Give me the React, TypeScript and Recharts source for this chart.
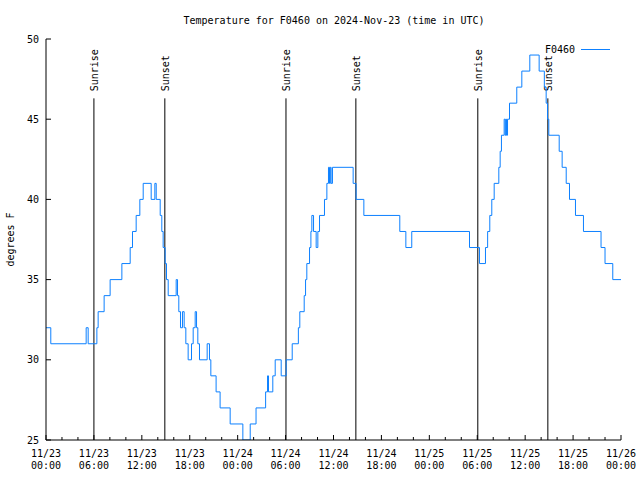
import { LineChart, Line, XAxis, YAxis, ReferenceLine, Customized } from "recharts";

// hours since 11/23 00:00 UTC where the reading changes, and the reading from then on
const stepHours = [
  0, 0.6, 5.03, 5.28, 6.37, 6.53, 7.28, 8.03, 9.5, 10.54, 10.83, 11.29, 11.75, 12.17,
  13.17, 13.63, 13.8, 14.3, 14.5, 14.67, 14.92, 15.09, 15.3, 16.3, 16.47, 16.63, 16.84,
  17.09, 17.3, 17.51, 17.8, 18.22, 18.43, 18.68, 18.85, 19.01, 19.22, 20.18, 20.47, 20.64,
  21.3, 21.8, 23.06, 24.65, 25.57, 26.3, 27.5, 27.74, 27.86, 28.4, 28.7, 29.45, 30.07,
  30.83, 31.6, 31.78, 32.33, 32.5, 32.66, 33.0, 33.17, 33.29, 33.5, 33.83, 34.04, 34.25,
  34.87, 35.17, 35.37, 35.5, 35.6, 35.7, 35.87, 38.46, 38.83, 39.8, 44.3, 45.06, 45.8,
  53.03, 54.28, 55.03, 55.3, 55.57, 55.82, 56.12, 56.7, 56.87, 57.03, 57.37, 57.5, 57.58,
  57.66, 57.79, 58.04, 58.95, 59.58, 60.58, 61.75, 62.4, 62.63, 62.8, 62.96, 64.26, 64.63,
  65.14, 65.55, 66.3, 67.3, 69.5, 70.0, 70.97, 72,
];
const stepTemps = [
  32, 31, 32, 31, 32, 33, 34, 35, 36, 37, 38, 39, 40, 41,
  40, 41, 40, 39, 38, 37, 36, 35, 34, 35, 34, 33, 32,
  33, 32, 31, 30, 31, 32, 33, 32, 31, 30, 31, 30, 29,
  28, 27, 26, 25, 26, 27, 28, 29, 28, 29, 30, 29, 30,
  31, 32, 33, 34, 35, 36, 37, 38, 39, 38, 37, 38, 39,
  40, 41, 42, 41, 42, 41, 42, 41, 40, 39, 38, 37, 38,
  37, 36, 37, 38, 39, 40, 41, 42, 43, 44, 45, 44, 45,
  44, 45, 46, 47, 48, 49, 48, 47, 46, 45, 44, 43, 42,
  41, 40, 39, 38, 37, 36, 35, 35,
];

const xTickHours = [
  0, 2, 4, 6, 8, 10, 12, 14, 16, 18, 20, 22, 24, 26, 28, 30, 32, 34, 36,
  38, 40, 42, 44, 46, 48, 50, 52, 54, 56, 58, 60, 62, 64, 66, 68, 70, 72,
];
const xMajorHours = [0, 6, 12, 18, 24, 30, 36, 42, 48, 54, 60, 66, 72];
const xDayLabels = [
  "11/23", "11/23", "11/23", "11/23", "11/24", "11/24", "11/24",
  "11/24", "11/25", "11/25", "11/25", "11/25", "11/26",
];
const xTimeLabels = [
  "00:00", "06:00", "12:00", "18:00", "00:00", "06:00", "12:00",
  "18:00", "00:00", "06:00", "12:00", "18:00", "00:00",
];
const yTicks = [25, 30, 35, 40, 45, 50];

const sunriseHours = [6.0, 30.05, 54.07];
const sunsetHours = [14.88, 38.8, 62.84];
const sunLineTop = 46.3;

const data = stepHours.map((h, i) => ({ h, temp: stepTemps[i] }));

const FONT = "'DejaVu Sans Mono', monospace";
const BLUE = "#0d80ff";

function BottomTick({ x, y, payload }: any) {
  const i = xMajorHours.indexOf(payload.value);
  return (
    <g>
      <line x1={x} x2={x} y1={y} y2={y - (i >= 0 ? 5 : 3)} stroke="#000" />
      {i >= 0 && (
        <text x={x} y={y + 17} textAnchor="middle" fontFamily={FONT} fontSize={10} fill="#000">
          <tspan x={x}>{xDayLabels[i]}</tspan>
          <tspan x={x} dy={11.5}>{xTimeLabels[i]}</tspan>
        </text>
      )}
    </g>
  );
}

function TopTick({ x, y, payload }: any) {
  const major = xMajorHours.includes(payload.value);
  return <line x1={x} x2={x} y1={y} y2={y + (major ? 5 : 3)} stroke="#000" />;
}

function LeftTick({ x, y, payload }: any) {
  return (
    <g>
      <line x1={x} x2={x + 5} y1={y} y2={y} stroke="#000" />
      <text x={x - 7} y={y + 3.6} textAnchor="end" fontFamily={FONT} fontSize={10} fill="#000">
        {payload.value}
      </text>
    </g>
  );
}

function RightTick({ x, y }: any) {
  return <line x1={x} x2={x - 5} y1={y} y2={y} stroke="#000" />;
}

function YTitle({ viewBox }: any) {
  const x = viewBox.x + 10;
  const y = viewBox.y + viewBox.height / 2;
  return (
    <text
      x={x}
      y={y}
      transform={`rotate(-90 ${x} ${y})`}
      textAnchor="middle"
      dominantBaseline="central"
      fontFamily={FONT}
      fontSize={10}
      fill="#000"
    >
      degrees F
    </text>
  );
}

function SunLabel({ viewBox, text }: any) {
  const x = viewBox.x + 1;
  const y = viewBox.y - 7;
  return (
    <text
      x={x}
      y={y}
      transform={`rotate(-90 ${x} ${y})`}
      textAnchor="start"
      dominantBaseline="central"
      fontFamily={FONT}
      fontSize={10}
      fill="#000"
    >
      {text}
    </text>
  );
}

function TitleAndLegend() {
  return (
    <g>
      <text x={334} y={24} textAnchor="middle" fontFamily={FONT} fontSize={10} fill="#000">
        Temperature for F0460 on 2024-Nov-23 (time in UTC)
      </text>
      <text x={575} y={53} textAnchor="end" fontFamily={FONT} fontSize={10} fill="#000">
        F0460
      </text>
      <line x1={581} x2={610} y1={49.5} y2={49.5} stroke={BLUE} />
    </g>
  );
}

export default function App() {
  return (
    <div style={{ position: "absolute", left: 0, top: 0, width: 640, height: 480, background: "#fff" }}>
      <LineChart width={640} height={480} data={data} margin={{ top: 39, right: 19, bottom: 0, left: 0 }}>
        <XAxis
          dataKey="h"
          type="number"
          domain={[0, 72]}
          ticks={xTickHours}
          interval={0}
          tick={<BottomTick />}
          tickLine={false}
          tickSize={0}
          tickMargin={0}
          height={40}
          axisLine={{ stroke: "#000" }}
          allowDataOverflow
        />
        <XAxis
          xAxisId="top"
          orientation="top"
          type="number"
          domain={[0, 72]}
          ticks={xTickHours}
          interval={0}
          tick={<TopTick />}
          tickLine={false}
          tickSize={0}
          tickMargin={0}
          height={0}
          axisLine={{ stroke: "#000" }}
          allowDataOverflow
        />
        <YAxis
          type="number"
          domain={[25, 50]}
          ticks={yTicks}
          interval={0}
          tick={<LeftTick />}
          tickLine={false}
          tickSize={0}
          tickMargin={0}
          width={46}
          axisLine={{ stroke: "#000" }}
          label={<YTitle />}
          allowDataOverflow
        />
        <YAxis
          yAxisId="right"
          orientation="right"
          type="number"
          domain={[25, 50]}
          ticks={yTicks}
          interval={0}
          tick={<RightTick />}
          tickLine={false}
          tickSize={0}
          tickMargin={0}
          width={0}
          axisLine={{ stroke: "#000" }}
          allowDataOverflow
        />
        {sunriseHours.map((h) => (
          <ReferenceLine
            key={`rise-${h}`}
            segment={[{ x: h, y: sunLineTop }, { x: h, y: 25 }]}
            stroke="#000"
            label={<SunLabel text="Sunrise" />}
          />
        ))}
        {sunsetHours.map((h) => (
          <ReferenceLine
            key={`set-${h}`}
            segment={[{ x: h, y: sunLineTop }, { x: h, y: 25 }]}
            stroke="#000"
            label={<SunLabel text="Sunset" />}
          />
        ))}
        <Line
          type="stepAfter"
          dataKey="temp"
          stroke={BLUE}
          strokeWidth={1}
          dot={false}
          activeDot={false}
          isAnimationActive={false}
        />
        <Customized component={TitleAndLegend} />
      </LineChart>
    </div>
  );
}
